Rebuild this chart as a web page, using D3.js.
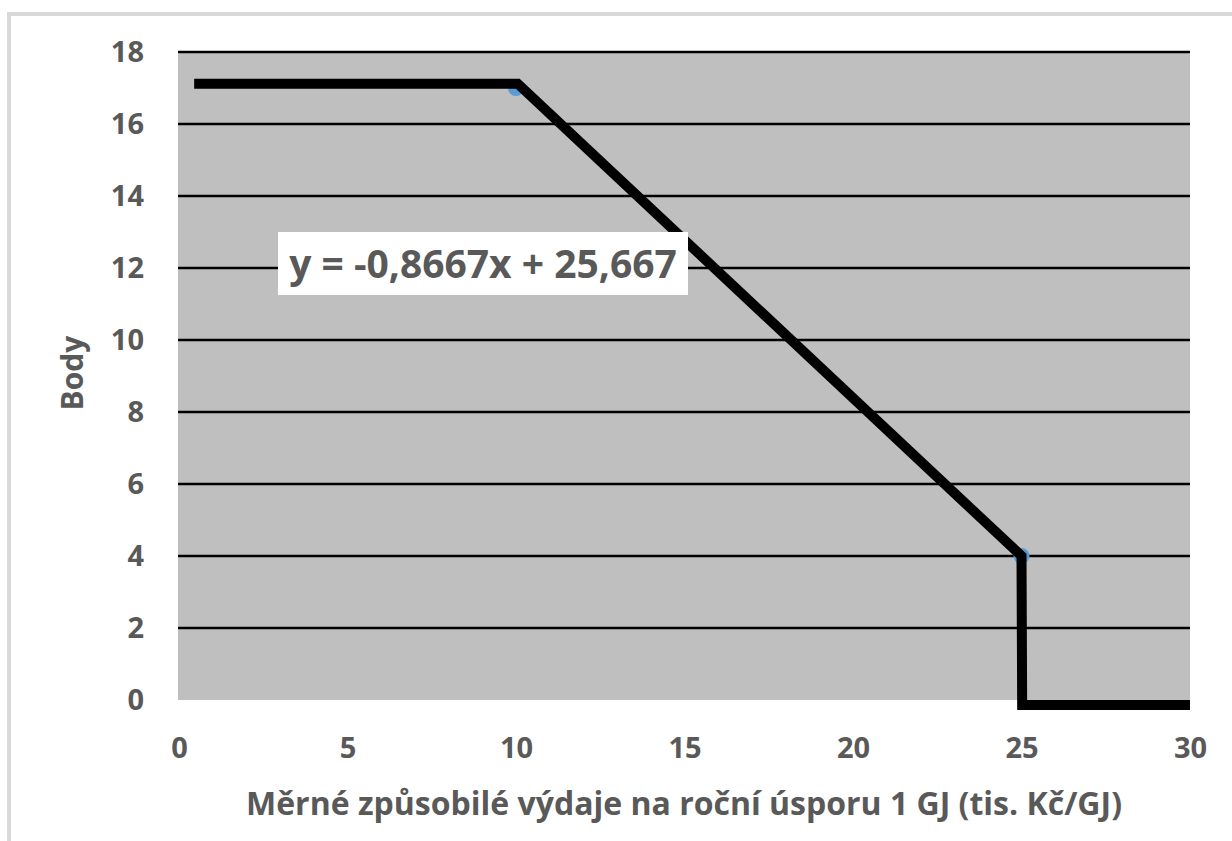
<!DOCTYPE html>
<html lang="cs">
<head>
<meta charset="UTF-8">
<title>Body</title>
<script src="https://d3js.org/d3.v7.min.js"></script>
<style>
  body { margin: 0; background: #fff; }
  text { font-family: "Open Sans", sans-serif; font-weight: bold; fill: #595959; }
</style>
</head>
<body>
<script>
// data
var xTicks = [0, 5, 10, 15, 20, 25, 30];
var yTicks = [0, 2, 4, 6, 8, 10, 12, 14, 16, 18];
var markerX = [10, 25];
var markerY = [17, 4];
// the thick black curve drawn over the chart
var curveX = [0.45, 10.05, 25, 25.02, 30];
var curveY = [17.12, 17.12, 4, -0.14, -0.14];
var equation = "y = -0,8667x + 25,667";
var xTitle = "Měrné způsobilé výdaje na roční úsporu 1 GJ (tis. Kč/GJ)";
var yTitle = "Body";

var W = 1232, H = 841;
var plotL = 179, plotR = 1190, plotT = 52, plotB = 700;

var svg = d3.select("body").append("svg")
    .attr("width", W).attr("height", H);

// outer chart frame
svg.append("rect")
    .attr("x", 9).attr("y", 14)
    .attr("width", W + 20).attr("height", H + 20)
    .attr("fill", "none").attr("stroke", "#d9d9d9").attr("stroke-width", 4);

var x = d3.scaleLinear().domain([0, 30]).range([plotL, plotR]);
var y = d3.scaleLinear().domain([0, 18]).range([plotB, plotT]);

// plot area
svg.append("rect")
    .attr("x", x(0) - 1).attr("y", y(18))
    .attr("width", x(30) - x(0) + 1).attr("height", y(0) - y(18))
    .attr("fill", "#bfbfbf");

// gridlines
svg.append("g")
    .selectAll("line")
    .data(yTicks.filter(d => d > 0))
    .enter().append("line")
    .attr("x1", x(0) - 1).attr("x2", x(30))
    .attr("y1", d => y(d)).attr("y2", d => y(d))
    .attr("stroke", "#000").attr("stroke-width", 2.5);

// axes (labels only)
var xAxis = svg.append("g")
    .attr("transform", "translate(0," + plotB + ")")
    .call(d3.axisBottom(x).tickValues(xTicks).tickSize(0).tickPadding(37));
var yAxis = svg.append("g")
    .attr("transform", "translate(" + plotL + ",0)")
    .call(d3.axisLeft(y).tickValues(yTicks).tickSize(0).tickPadding(35));
[xAxis, yAxis].forEach(a => {
    a.select(".domain").remove();
    a.selectAll("text").attr("fill", "#595959")
        .style("font-family", "'Open Sans', sans-serif")
        .style("font-weight", "bold").style("font-size", "29px");
});

// markers
var pts = markerX.map((d, i) => [d, markerY[i]]);
svg.append("g")
    .selectAll("circle")
    .data(pts)
    .enter().append("circle")
    .attr("cx", d => x(d[0])).attr("cy", d => y(d[1]))
    .attr("r", 7)
    .attr("fill", "#5b9bd5").attr("stroke", "#5b9bd5").attr("stroke-width", 2);

// black line
var line = d3.line().x(d => x(d[0])).y(d => y(d[1]));
svg.append("path")
    .datum(curveX.map((d, i) => [d, curveY[i]]))
    .attr("d", line)
    .attr("fill", "none")
    .attr("stroke", "#000")
    .attr("stroke-width", 10)
    .attr("stroke-linejoin", "miter");

// equation label
svg.append("rect")
    .attr("x", 278).attr("y", 232)
    .attr("width", 410).attr("height", 63)
    .attr("fill", "#fff");
svg.append("text")
    .attr("x", 483).attr("y", 278)
    .attr("text-anchor", "middle")
    .style("font-size", "39px")
    .text(equation);

// axis titles
svg.append("text")
    .attr("x", 684).attr("y", 815)
    .attr("text-anchor", "middle")
    .style("font-size", "32px")
    .text(xTitle);
svg.append("text")
    .attr("transform", "translate(83,373) rotate(-90)")
    .attr("text-anchor", "middle")
    .style("font-size", "30px")
    .text(yTitle);
</script>
</body>
</html>
